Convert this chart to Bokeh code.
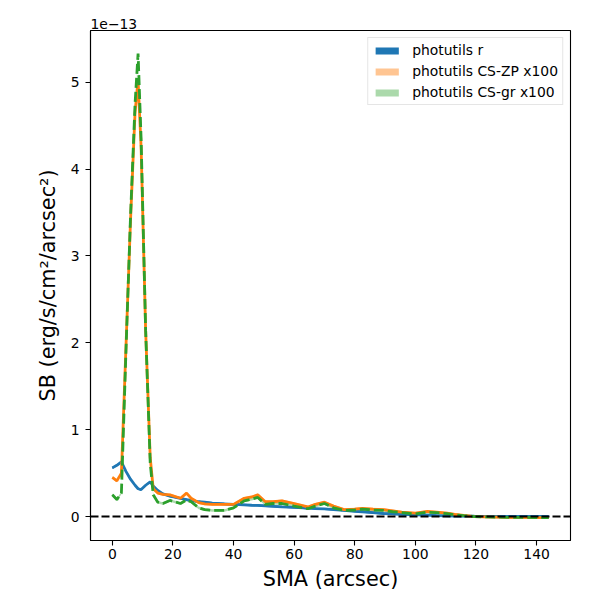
from bokeh.plotting import figure
from bokeh.models import Range1d, FixedTicker, Span, Legend
from bokeh.embed import file_html
from bokeh.resources import INLINE

# SMA (arcsec)
sma = [0, 1.5, 3, 4.5, 6, 7.5, 8.5, 9.5, 11, 12.5, 13.5, 15, 16.7, 19, 22.5, 24.5, 26,
       28.5, 30.5, 33, 37, 40, 43.5, 46, 48, 50.5, 53, 56, 60, 64.5, 67, 70, 73, 76.5,
       80, 82.5, 86, 89.5, 92.5, 95.5, 100, 104, 107, 110.5, 113, 116, 119.5, 124, 128,
       132, 136, 140, 144]

# surface brightness in units of 1e-13 erg/s/cm2/arcsec2
sb_r = [0.56, 0.59, 0.63, 0.52, 0.43, 0.36, 0.32, 0.31, 0.36, 0.40, 0.35, 0.30, 0.26,
        0.235, 0.21, 0.195, 0.185, 0.17, 0.165, 0.155, 0.146, 0.14, 0.135, 0.13, 0.128,
        0.123, 0.118, 0.112, 0.105, 0.097, 0.092, 0.087, 0.08, 0.07, 0.06, 0.055, 0.045,
        0.035, 0.03, 0.025, 0.02, 0.015, 0.011, 0.008, 0.006, 0.004, 0.003, 0.002, 0.001,
        0.001, 0.0, 0.0, 0.0]

sb_zp = [0.45, 0.41, 0.50, 1.95, 3.40, 4.65, 5.02, 4.25, 2.14, 0.68, 0.32, 0.27, 0.255,
         0.25, 0.21, 0.27, 0.21, 0.16, 0.145, 0.14, 0.14, 0.14, 0.21, 0.225, 0.25, 0.17,
         0.17, 0.18, 0.15, 0.11, 0.14, 0.165, 0.12, 0.08, 0.085, 0.095, 0.085, 0.08,
         0.065, 0.05, 0.038, 0.058, 0.05, 0.038, 0.025, 0.012, 0.0, -0.005, -0.008,
         -0.01, -0.01, -0.012, -0.012]

sb_gr = [0.25, 0.195, 0.27, 1.90, 3.45, 4.75, 5.33, 4.35, 2.14, 0.62, 0.25, 0.165, 0.15,
         0.185, 0.15, 0.19, 0.17, 0.10, 0.08, 0.07, 0.07, 0.10, 0.18, 0.20, 0.22, 0.14,
         0.15, 0.15, 0.12, 0.09, 0.12, 0.15, 0.10, 0.07, 0.075, 0.085, 0.075, 0.07,
         0.055, 0.045, 0.03, 0.05, 0.045, 0.033, 0.02, 0.01, 0.0, -0.005, -0.008,
         -0.01, -0.01, -0.012, -0.012]

err_r = 0.012
err_zp = 0.015
err_gr = 0.015

labels = ["photutils r", "photutils CS-ZP x100", "photutils CS-gr x100"]
x_ticks = [0, 20, 40, 60, 80, 100, 120, 140]
y_ticks = [0, 1, 2, 3, 4, 5]

FONT = "DejaVu Sans"
BLUE, ORANGE, GREEN = "#1f77b4", "#ff7f0e", "#2ca02c"

p = figure(width=584, height=593, output_backend="svg", toolbar_location=None,
           x_range=Range1d(-7.2, 151.2), y_range=Range1d(-0.276, 5.595),
           min_border_left=90, min_border_right=14, min_border_top=30,
           min_border_bottom=53)

p.title.text = "1e\u221213"
p.title.align = "left"
p.title.text_font = FONT
p.title.text_font_size = "13.9px"
p.title.text_font_style = "normal"
p.title.text_color = "black"
p.title.standoff = 4
p.title.offset = 0

p.grid.visible = False
p.outline_line_color = "black"
p.outline_line_width = 1.1
p.outline_line_alpha = 1

for ax in (p.xaxis[0], p.yaxis[0]):
    ax.axis_line_color = "black"
    ax.axis_line_width = 1.1
    ax.major_tick_in = 0
    ax.major_tick_out = 5
    ax.major_tick_line_width = 1.1
    ax.minor_tick_line_color = None
    ax.major_label_text_font = FONT
    ax.major_label_text_font_size = "13.9px"
    ax.major_label_text_color = "black"
    ax.major_label_text_line_height = 1.0
    ax.axis_label_text_font = FONT
    ax.axis_label_text_font_size = "20.8px"
    ax.axis_label_text_font_style = "normal"
    ax.axis_label_text_color = "black"
    ax.axis_label_text_line_height = 1.0

p.xaxis.ticker = FixedTicker(ticks=x_ticks)
p.yaxis.ticker = FixedTicker(ticks=y_ticks)
p.xaxis.axis_label = "SMA (arcsec)"
p.yaxis.axis_label = "SB (erg/s/cm\u00b2/arcsec\u00b2)"
p.xaxis.major_label_standoff = 3
p.yaxis.major_label_standoff = 6
p.xaxis.axis_label_standoff = 5
p.yaxis.axis_label_standoff = 8

band_r = p.varea(x=sma, y1=[v - err_r for v in sb_r], y2=[v + err_r for v in sb_r],
                 fill_color=BLUE, fill_alpha=1.0)
band_zp = p.varea(x=sma, y1=[v - err_zp for v in sb_zp], y2=[v + err_zp for v in sb_zp],
                  fill_color=ORANGE, fill_alpha=0.45)
band_gr = p.varea(x=sma, y1=[v - err_gr for v in sb_gr], y2=[v + err_gr for v in sb_gr],
                  fill_color=GREEN, fill_alpha=0.4)

p.line(sma, sb_r, line_color=BLUE, line_width=2.8)
p.line(sma, sb_zp, line_color=ORANGE, line_width=2.8)
p.line(sma, sb_gr, line_color=GREEN, line_width=2.8, line_dash="10 4")

p.add_layout(Span(location=0, dimension="width", line_color="black",
                  line_width=2.0, line_dash="8 3"))

legend = Legend(items=[(labels[0], [band_r]), (labels[1], [band_zp]), (labels[2], [band_gr])],
                location="top_right")
legend.label_text_font = FONT
legend.label_text_font_size = "13.9px"
legend.label_text_color = "black"
legend.glyph_width = 29
legend.glyph_height = 9
legend.label_height = 14
legend.label_standoff = 11
legend.spacing = 5
legend.padding = 4
legend.margin = 7
legend.border_line_color = "#cccccc"
legend.border_line_width = 1
legend.background_fill_alpha = 0.8
p.add_layout(legend)

open("out.html", "w").write(file_html(p, INLINE))
